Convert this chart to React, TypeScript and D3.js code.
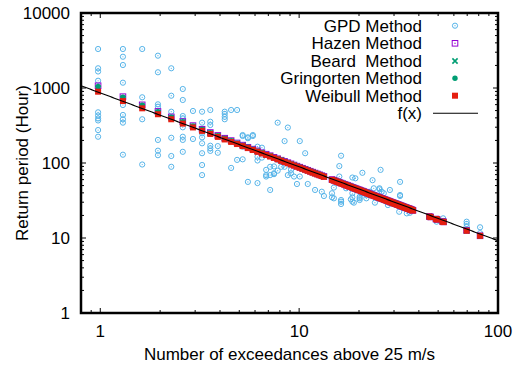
import React from 'react';
import * as d3 from 'd3';

// ---------- data ----------
const xTickValues = [1, 10, 100];
const xTickLabels = ['1', '10', '100'];
const yTickValues = [1, 10, 100, 1000, 10000];
const yTickLabels = ['1', '10', '100', '1000', '10000'];

const methodX = [
  0.975, 1.3, 1.625, 1.95, 2.275, 2.6, 2.925, 3.25, 3.575, 3.9, 4.225, 4.55, 4.875, 5.2, 5.525, 5.85, 6.175, 6.5, 6.825, 7.15,
  7.475, 7.8, 8.125, 8.45, 8.775, 9.1, 9.425, 9.75, 10.075, 10.4, 10.725, 11.05, 11.375, 11.7, 12.025, 12.35, 12.675, 13.0, 13.325,
  14.625, 14.95, 15.275, 15.6, 15.925, 16.25, 16.575, 16.9, 17.225, 17.55, 17.875, 18.2, 18.525, 18.85, 19.175, 19.5, 19.825,
  20.15, 20.475, 20.8, 21.125, 21.45, 21.775, 22.1, 22.425, 22.75, 23.075, 23.4, 23.725, 24.05, 24.375, 24.7, 25.025, 25.35,
  25.675, 26.0, 26.325, 26.65, 26.975, 27.3, 27.625, 27.95, 28.275, 28.6, 28.925, 29.25, 29.575, 29.9, 30.225, 30.55, 30.875,
  31.2, 31.525, 31.85, 32.175, 32.5, 32.825, 33.15, 33.475, 33.8, 34.125, 34.45, 34.775, 35.1, 35.425, 35.75, 36.075, 36.4,
  36.725, 37.05, 37.375,
  45.175, 45.825, 48.75, 49.4, 52.65, 53.3, 69.55, 81.25,
];

const hazenY = [
  1072, 766, 596, 487, 412, 357, 315, 282, 255, 233, 214, 199, 185, 173, 162, 153, 145, 137, 131, 125,
  119, 114, 109, 105, 101, 97.5, 94.0, 90.8, 87.9, 85.1, 82.5, 80.0, 77.7, 75.5, 73.4, 71.5, 69.6, 67.8, 66.2,
  60.2, 58.9, 57.6, 56.4, 55.3, 54.1, 53.1, 52.0, 51.0, 50.1, 49.2, 48.3, 47.4, 46.6, 45.8, 45.0, 44.3,
  43.6, 42.9, 42.2, 41.6, 40.9, 40.3, 39.7, 39.1, 38.6, 38.0, 37.5, 37.0, 36.5, 36.0, 35.5, 35.0, 34.6,
  34.1, 33.7, 33.3, 32.9, 32.5, 32.1, 31.7, 31.3, 31.0, 30.6, 30.3, 29.9, 29.6, 29.3, 29.0, 28.7, 28.4,
  28.1, 27.8, 27.5, 27.2, 26.9, 26.7, 26.4, 26.1, 25.9, 25.6, 25.4, 25.2, 24.9, 24.7, 24.5, 24.3, 24.0,
  23.8, 23.6, 23.4,
  19.3, 19.1, 17.9, 17.7, 16.6, 16.4, 12.6, 10.7,
];

const beardY = [
  993, 724, 570, 470, 400, 348, 308, 276, 250, 229, 211, 196, 182, 171, 160, 151, 143, 136, 129, 124,
  118, 113, 109, 104, 100, 96.8, 93.4, 90.2, 87.3, 84.5, 82.0, 79.5, 77.2, 75.1, 73.0, 71.1, 69.3, 67.5, 65.8,
  60.0, 58.6, 57.4, 56.2, 55.0, 53.9, 52.8, 51.8, 50.9, 49.9, 49.0, 48.2, 47.3, 46.4, 45.6, 44.9, 44.1,
  43.4, 42.7, 42.1, 41.4, 40.8, 40.2, 39.6, 39.0, 38.5, 37.9, 37.4, 36.9, 36.4, 35.9, 35.4, 35.0, 34.5,
  34.1, 33.6, 33.2, 32.8, 32.4, 32.0, 31.6, 31.3, 30.9, 30.6, 30.2, 29.9, 29.5, 29.2, 28.9, 28.6, 28.3,
  28.0, 27.7, 27.4, 27.1, 26.9, 26.6, 26.3, 26.1, 25.8, 25.6, 25.3, 25.1, 24.9, 24.6, 24.4, 24.2, 24.0,
  23.8, 23.6, 23.4,
  19.3, 19.0, 17.9, 17.7, 16.6, 16.4, 12.5, 10.7,
];

const gringortenY = [
  1047, 753, 588, 482, 409, 354, 313, 280, 254, 232, 213, 198, 184, 172, 162, 153, 144, 137, 130, 124,
  119, 114, 109, 105, 101, 97.2, 93.8, 90.7, 87.7, 84.9, 82.3, 79.9, 77.6, 75.4, 73.3, 71.4, 69.5, 67.7, 66.1,
  60.1, 58.8, 57.6, 56.4, 55.2, 54.1, 53.1, 52.0, 51.0, 50.1, 49.2, 48.3, 47.4, 46.6, 45.8, 45.0, 44.3,
  43.6, 42.9, 42.2, 41.6, 40.9, 40.3, 39.7, 39.1, 38.6, 38.0, 37.5, 37.0, 36.5, 36.0, 35.5, 35.0, 34.6,
  34.1, 33.7, 33.3, 32.9, 32.5, 32.1, 31.7, 31.3, 31.0, 30.6, 30.3, 29.9, 29.6, 29.3, 29.0, 28.7, 28.4,
  28.1, 27.8, 27.5, 27.2, 26.9, 26.7, 26.4, 26.1, 25.9, 25.6, 25.4, 25.2, 24.9, 24.7, 24.5, 24.3, 24.0,
  23.8, 23.6, 23.4,
  19.3, 19.1, 17.9, 17.7, 16.6, 16.4, 12.6, 10.7,
];

const weibullY = [
  893, 670, 536, 447, 383, 335, 298, 268, 244, 223, 206, 191, 179, 168, 158, 149, 141, 134, 128, 122,
  117, 112, 107, 103, 99.3, 95.7, 92.4, 89.3, 86.5, 83.8, 81.2, 78.8, 76.6, 74.4, 72.4, 70.5, 68.7, 67.0, 65.4,
  59.6, 58.3, 57.0, 55.8, 54.7, 53.6, 52.5, 51.5, 50.6, 49.6, 48.7, 47.9, 47.0, 46.2, 45.4, 44.7, 43.9,
  43.2, 42.5, 41.9, 41.2, 40.6, 40.0, 39.4, 38.8, 38.3, 37.7, 37.2, 36.7, 36.2, 35.7, 35.3, 34.8, 34.4,
  33.9, 33.5, 33.1, 32.7, 32.3, 31.9, 31.5, 31.2, 30.8, 30.5, 30.1, 29.8, 29.5, 29.1, 28.8, 28.5, 28.2,
  27.9, 27.6, 27.3, 27.1, 26.8, 26.5, 26.3, 26.0, 25.8, 25.5, 25.3, 25.0, 24.8, 24.6, 24.4, 24.1, 23.9,
  23.7, 23.5, 23.3,
  19.3, 19.0, 17.9, 17.6, 16.5, 16.3, 12.5, 10.7,
];

// GPD estimates: [exceedances, return period]
const gpdPoints: [number, number][] = [
  [0.975, 3311], [0.975, 1832], [0.975, 1660], [0.975, 1250], [0.975, 474], [0.975, 430], [0.975, 392], [0.975, 369], [0.975, 275], [0.975, 224],
  [1.3, 3311], [1.3, 2612], [1.3, 2026], [1.3, 1177], [1.3, 593], [1.3, 437], [1.3, 383], [1.3, 345], [1.3, 129],
  [1.625, 3311], [1.625, 752], [1.625, 383], [1.625, 95.5],
  [1.95, 2697], [1.95, 1620], [1.95, 606], [1.95, 563], [1.95, 203], [1.95, 146], [1.95, 127],
  [2.275, 1832], [2.275, 789], [2.275, 483], [2.275, 217], [2.275, 124], [2.275, 89],
  [2.6, 970], [2.6, 692], [2.6, 423], [2.6, 394], [2.6, 299], [2.6, 224], [2.6, 203], [2.6, 141],
  [2.925, 494], [2.925, 209],
  [3.25, 483], [3.25, 345], [3.25, 249], [3.25, 220], [3.25, 183], [3.25, 135], [3.25, 94], [3.25, 69],
  [3.575, 509], [3.575, 355], [3.575, 321], [3.575, 170], [3.575, 157], [3.575, 145],
  [3.9, 168], [3.9, 137],
  [4.225, 483], [4.225, 451], [4.225, 413], [4.225, 383],
  [4.55, 509], [4.55, 86],
  [4.875, 509], [4.875, 110],
  [5.2, 236], [5.2, 229], [5.2, 165], [5.2, 112],
  [5.525, 220], [5.525, 214], [5.525, 162], [5.525, 56],
  [5.85, 236], [5.85, 229],
  [6.175, 165], [6.175, 121], [6.175, 108], [6.175, 54],
  [6.5, 160], [6.5, 118],
  [6.825, 81], [6.825, 69], [6.825, 66],
  [7.15, 89], [7.15, 69], [7.15, 43.7],
  [7.475, 90], [7.475, 73], [7.475, 71],
  [7.8, 345], [7.8, 110], [7.8, 79],
  [8.125, 104], [8.125, 89],
  [8.45, 196], [8.45, 89],
  [8.775, 297], [8.775, 69],
  [9.1, 81], [9.1, 73],
  [9.425, 66], [9.75, 52.5],
  [10.075, 196], [10.075, 66],
  [10.725, 135], [11.05, 52.5], [12.025, 43.7], [13.0, 41.4], [13.325, 36.3],
  [14.625, 39.5], [14.625, 34.9], [14.95, 47], [14.95, 33.8],
  [15.925, 91], [15.925, 66],
  [16.25, 125], [16.25, 32.1], [16.25, 30.5], [16.25, 28.4],
  [17.225, 46], [18.2, 32.8],
  [18.525, 64], [18.525, 46], [18.525, 39.5], [18.525, 34.9], [18.525, 30.5],
  [18.85, 29.6], [19.175, 62.5], [19.5, 44.6],
  [20.15, 35.4], [20.15, 33.8], [20.15, 32.1],
  [20.475, 39.5], [20.8, 74],
  [21.775, 37.4], [21.775, 33.8],
  [22.75, 41.4], [23.075, 38.6], [23.4, 59], [23.725, 46], [24.05, 29.6],
  [25.35, 46], [25.35, 44.6], [25.675, 81], [26.0, 41.4], [26.0, 34.9],
  [26.65, 39.5], [27.3, 32.1], [27.95, 27.5], [28.6, 43.7], [28.6, 29.6],
  [31.85, 22.4], [32.175, 56], [32.175, 37.4], [32.175, 36.3],
  [34.775, 21.3], [36.075, 21.7],
  [49.075, 16.5], [52.975, 18.3],
  [69.55, 16.5], [69.55, 15.4], [69.55, 14.2], [69.55, 13.1],
  [81.25, 13.9], [81.25, 11.6],
];

// fitted power law f(x) = a * x^b
const fitA = 860;
const fitB = -0.985;

const legendLabels = ['GPD Method', 'Hazen Method', 'Beard  Method', 'Gringorten Method', 'Weibull Method', 'f(x)'];

// ---------- styling ----------
const C_GPD = '#56b4e9';
const C_HAZEN = '#9400d3';
const C_GREEN = '#009e73';
const C_WEIBULL = '#e51e10';
const FONT = '"Liberation Sans", Arial, Helvetica, sans-serif';

const W = 524;
const H = 369;
const M = { left: 81, right: 498, top: 13, bottom: 313 };

export default function App() {
  const x = d3.scaleLog().domain([0.8, 100]).range([M.left, M.right]);
  const y = d3.scaleLog().domain([1, 10000]).range([M.bottom, M.top]);

  // minor ticks
  const xMinor: number[] = [];
  for (const dec of [0.1, 1, 10]) for (let i = 2; i <= 9; i++) {
    const v = dec * i;
    if (v >= 0.8 && v < 100 && i !== 1) xMinor.push(v);
  }
  const yMinor: number[] = [];
  for (const dec of [1, 10, 100, 1000]) for (let i = 2; i <= 9; i++) yMinor.push(dec * i);

  const fitXs = d3.range(0, 201).map((i) => 0.8 * Math.pow(100 / 0.8, i / 200));
  const fitLine = d3.line<number>().x((v) => x(v)).y((v) => y(fitA * Math.pow(v, fitB)))(fitXs) || '';

  const circle = (cx: number, cy: number, key: string | number) => (
    <g key={key}>
      <circle cx={cx} cy={cy} r={2.6} fill="none" stroke={C_GPD} strokeWidth={1} />
      <circle cx={cx} cy={cy} r={0.6} fill={C_GPD} />
    </g>
  );
  const hazen = (cx: number, cy: number, key: string | number) => (
    <g key={key}>
      <rect x={cx - 2.8} y={cy - 2.8} width={5.6} height={5.6} fill="none" stroke={C_HAZEN} strokeWidth={1} />
      <rect x={cx - 0.6} y={cy - 0.6} width={1.2} height={1.2} fill={C_HAZEN} />
    </g>
  );
  const beard = (cx: number, cy: number, key: string | number) => (
    <path key={key} d={`M${cx - 2.6},${cy - 2.6}L${cx + 2.6},${cy + 2.6}M${cx - 2.6},${cy + 2.6}L${cx + 2.6},${cy - 2.6}`} stroke={C_GREEN} strokeWidth={1.6} />
  );
  const gring = (cx: number, cy: number, key: string | number) => (
    <circle key={key} cx={cx} cy={cy} r={2.7} fill={C_GREEN} />
  );
  const weib = (cx: number, cy: number, key: string | number) => (
    <rect key={key} x={cx - 3} y={cy - 3} width={6} height={6} fill={C_WEIBULL} />
  );

  const legendY = [25.7, 43.3, 61, 78.3, 95.7, 113.3];
  const legTextX = 422;
  const legSymX = 455;

  return (
    <svg width={W} height={H} style={{ position: 'absolute', left: 0, top: 0, background: '#fff' }} fontFamily={FONT}>
      <rect x={0} y={0} width={W} height={H} fill="#fff" />
      <defs>
        <clipPath id="plotclip">
          <rect x={M.left} y={M.top} width={M.right - M.left} height={M.bottom - M.top} />
        </clipPath>
      </defs>

      {/* ticks */}
      <g stroke="#000" strokeWidth={1}>
        {xTickValues.map((v) => (
          <g key={'xt' + v}>
            <line x1={x(v)} x2={x(v)} y1={M.bottom} y2={M.bottom - 5} />
            <line x1={x(v)} x2={x(v)} y1={M.top} y2={M.top + 5} />
          </g>
        ))}
        {xMinor.map((v) => (
          <g key={'xm' + v}>
            <line x1={x(v)} x2={x(v)} y1={M.bottom} y2={M.bottom - 3} />
            <line x1={x(v)} x2={x(v)} y1={M.top} y2={M.top + 3} />
          </g>
        ))}
        {yTickValues.map((v) => (
          <g key={'yt' + v}>
            <line x1={M.left} x2={M.left + 5} y1={y(v)} y2={y(v)} />
            <line x1={M.right} x2={M.right - 5} y1={y(v)} y2={y(v)} />
          </g>
        ))}
        {yMinor.map((v) => (
          <g key={'ym' + v}>
            <line x1={M.left} x2={M.left + 3} y1={y(v)} y2={y(v)} />
            <line x1={M.right} x2={M.right - 3} y1={y(v)} y2={y(v)} />
          </g>
        ))}
      </g>

      {/* tick labels */}
      <g fontSize={17} fill="#000">
        {xTickValues.map((v, i) => (
          <text key={'xl' + v} x={x(v)} y={337} textAnchor="middle">{xTickLabels[i]}</text>
        ))}
        {yTickValues.map((v, i) => (
          <text key={'yl' + v} x={70} y={y(v) + 6} textAnchor="end">{yTickLabels[i]}</text>
        ))}
      </g>

      {/* axis titles */}
      <text x={(M.left + M.right) / 2} y={360} textAnchor="middle" fontSize={17}>Number of exceedances above 25 m/s</text>
      <text transform={`translate(28,163) rotate(-90)`} textAnchor="middle" fontSize={17}>Return period (Hour)</text>

      {/* data */}
      <g clipPath="url(#plotclip)">
        {gpdPoints.map(([px, py], i) => circle(x(px), y(py), 'g' + i))}
        {methodX.map((v, i) => hazen(x(v), y(hazenY[i]), 'h' + i))}
        {methodX.map((v, i) => beard(x(v), y(beardY[i]), 'b' + i))}
        {methodX.map((v, i) => gring(x(v), y(gringortenY[i]), 'r' + i))}
        {methodX.map((v, i) => weib(x(v), y(weibullY[i]), 'w' + i))}
        <path d={fitLine} fill="none" stroke="#000" strokeWidth={1.1} />
      </g>

      {/* legend */}
      <g fontSize={17}>
        {legendLabels.map((l, i) => (
          <text key={'lg' + i} x={legTextX} y={legendY[i] + 6} textAnchor="end" style={{ whiteSpace: 'pre' }}>{l}</text>
        ))}
        {circle(legSymX, legendY[0], 'lg0')}
        {hazen(legSymX, legendY[1], 'lg1')}
        {beard(legSymX, legendY[2], 'lg2')}
        {gring(legSymX, legendY[3], 'lg3')}
        {weib(legSymX, legendY[4], 'lg4')}
        <line x1={433} x2={478} y1={legendY[5]} y2={legendY[5]} stroke="#000" strokeWidth={1.1} />
      </g>

      {/* border */}
      <rect x={M.left} y={M.top} width={M.right - M.left} height={M.bottom - M.top} fill="none" stroke="#000" strokeWidth={2.5} />
    </svg>
  );
}
